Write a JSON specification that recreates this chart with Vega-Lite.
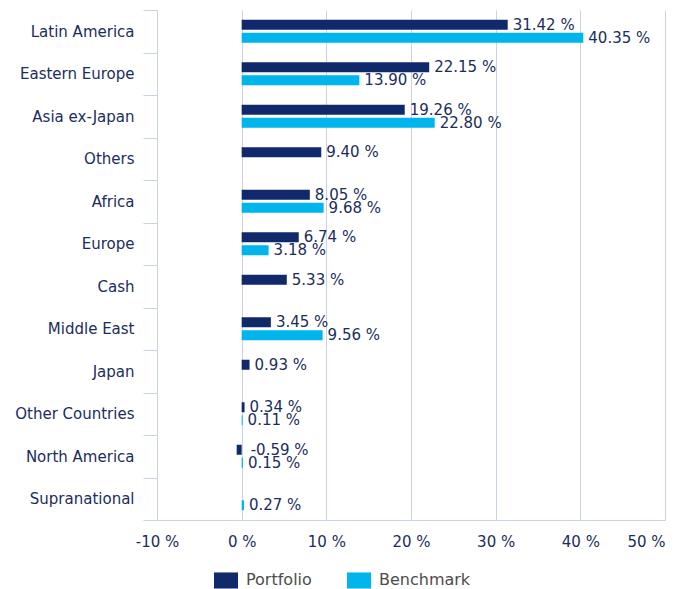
{
  "$schema": "https://vega.github.io/schema/vega-lite/v6.json",
  "width": 508,
  "height": 510,
  "autosize": {"type": "none"},
  "padding": {"left": 157, "top": 10, "right": 17, "bottom": 69},
  "background": "white",
  "config": {"font": "DejaVu Sans", "view": {"stroke": null}},
  "data": {
    "values": [
      {"region": "Latin America", "series": "Portfolio", "value": 31.42},
      {"region": "Latin America", "series": "Benchmark", "value": 40.35},
      {"region": "Eastern Europe", "series": "Portfolio", "value": 22.15},
      {"region": "Eastern Europe", "series": "Benchmark", "value": 13.90},
      {"region": "Asia ex-Japan", "series": "Portfolio", "value": 19.26},
      {"region": "Asia ex-Japan", "series": "Benchmark", "value": 22.80},
      {"region": "Others", "series": "Portfolio", "value": 9.40},
      {"region": "Africa", "series": "Portfolio", "value": 8.05},
      {"region": "Africa", "series": "Benchmark", "value": 9.68},
      {"region": "Europe", "series": "Portfolio", "value": 6.74},
      {"region": "Europe", "series": "Benchmark", "value": 3.18},
      {"region": "Cash", "series": "Portfolio", "value": 5.33},
      {"region": "Middle East", "series": "Portfolio", "value": 3.45},
      {"region": "Middle East", "series": "Benchmark", "value": 9.56},
      {"region": "Japan", "series": "Portfolio", "value": 0.93},
      {"region": "Other Countries", "series": "Portfolio", "value": 0.34},
      {"region": "Other Countries", "series": "Benchmark", "value": 0.11},
      {"region": "North America", "series": "Portfolio", "value": -0.59},
      {"region": "North America", "series": "Benchmark", "value": 0.15},
      {"region": "Supranational", "series": "Benchmark", "value": 0.27}
    ]
  },
  "transform": [{"calculate": "replace(format(datum.value, '.2f'), '\u2212', '-') + ' %'", "as": "label"}],
  "encoding": {
    "y": {
      "field": "region",
      "type": "nominal",
      "sort": null,
      "scale": {"paddingInner": 0, "paddingOuter": 0},
      "axis": {
        "title": null,
        "tickBand": "extent",
        "domainColor": "#c8d3e5",
        "tickColor": "#c8d3e5",
        "tickSize": 14,
        "labelPadding": 9,
        "labelFontSize": 15,
        "labelColor": "#1b2d5e",
        "grid": false
      }
    },
    "yOffset": {
      "field": "series",
      "sort": ["Portfolio", "Benchmark"],
      "scale": {"paddingInner": 0.23, "paddingOuter": 0.75}
    }
  },
  "layer": [
    {
      "mark": {"type": "bar"},
      "encoding": {
        "x": {
          "field": "value",
          "type": "quantitative",
          "scale": {"domain": [-10, 50], "nice": false, "zero": false},
          "axis": {
            "title": null,
            "values": [-10, 0, 10, 20, 30, 40, 50],
            "labelExpr": "datum.value + ' %'",
            "labelFlush": false,
            "labelOverlap": false,
            "labelAlign": {"condition": {"test": "datum.value == 50", "value": "right"}, "value": "center"},
            "grid": true,
            "gridColor": "#c8d3e5",
            "domainColor": "#c8d3e5",
            "ticks": false,
            "tickSize": 0,
            "labelPadding": 14,
            "labelFontSize": 15,
            "labelColor": "#1b2d5e"
          }
        },
        "color": {
          "field": "series",
          "type": "nominal",
          "scale": {"domain": ["Portfolio", "Benchmark"], "range": ["#10296a", "#00b5ec"]},
          "legend": {
            "title": null,
            "orient": "none",
            "direction": "horizontal",
            "legendX": 57,
            "legendY": 558,
            "symbolType": "M-1,-0.67H1V0.67H-1Z",
            "symbolSize": 576,
            "symbolStrokeWidth": 0,
            "labelFontSize": 16,
            "labelColor": "#4d4d4d",
            "labelOffset": 8,
            "columnPadding": 35
          }
        }
      }
    },
    {
      "mark": {"type": "text", "align": "left", "baseline": "middle", "dx": {"expr": "datum.value < 0 ? 14 : 5"}, "fontSize": 15, "color": "#1b2d5e"},
      "encoding": {
        "x": {"field": "value", "type": "quantitative"},
        "text": {"field": "label"}
      }
    }
  ]
}
